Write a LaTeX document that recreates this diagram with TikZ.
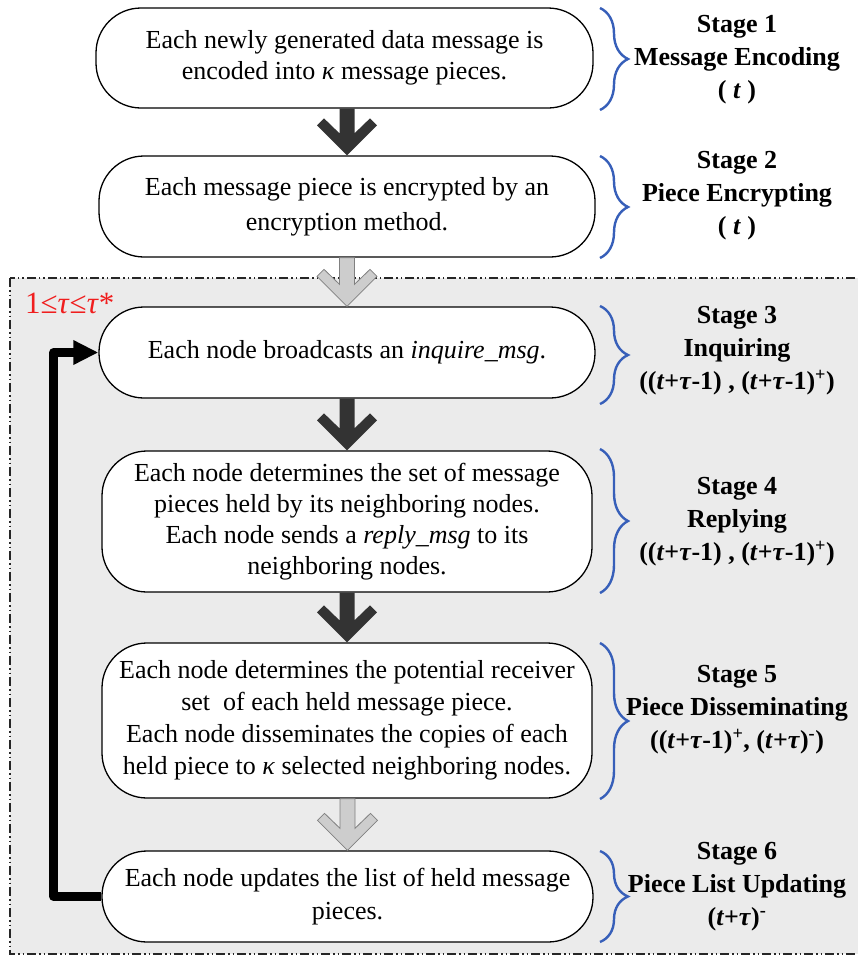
\documentclass[tikz,border=0pt]{standalone}
\usepackage{fontspec}
\setmainfont{Liberation Serif}
\usetikzlibrary{arrows.meta,decorations.pathreplacing,calc}
\definecolor{bracecol}{RGB}{55,95,185}
\definecolor{regionfill}{RGB}{235,235,235}
\definecolor{darkarr}{RGB}{51,51,51}
\definecolor{lightarr}{RGB}{205,205,205}
\definecolor{redlabel}{RGB}{240,30,30}
\newcommand\blockarrow[3]{%
  \path[#1] ([xshift=-7.5pt]#2) -- ([xshift=-7.5pt,yshift=22pt]#3.north) -- ([xshift=-23pt,yshift=37pt]#3.north) -- ([xshift=-30pt,yshift=30pt]#3.north) -- (#3.north) -- ([xshift=30pt,yshift=30pt]#3.north) -- ([xshift=23pt,yshift=37pt]#3.north) -- ([xshift=7.5pt,yshift=22pt]#3.north) -- ([xshift=7.5pt]#2) -- cycle;}
\tikzset{
  box/.style={draw, line width=1.3pt, fill=white, rounded corners=45pt, align=center, inner sep=0pt, font=\fontsize{26}{31}\selectfont},
  darkblock/.style={fill=darkarr},
  lightblock/.style={fill=lightarr, draw=gray, line width=0.8pt},
  stagelbl/.style={font=\fontsize{26}{33}\selectfont\bfseries, align=center, inner sep=0pt},
  brc/.style={draw=bracecol, line width=2.4pt, decorate, decoration={brace, amplitude=28pt}},
  region/.style={fill=regionfill, draw=black!85, line width=1.4pt, dash pattern=on 9pt off 3pt on 1.5pt off 3pt on 1.5pt off 3pt},
  fb/.style={line width=8.5pt, line join=round, -{Triangle[length=25pt,width=23pt]}},
  redlbl/.style={text=redlabel, font=\fontsize{31}{31}\selectfont, inner sep=0pt, anchor=base west}
}
\begin{document}
\begin{tikzpicture}[x=1pt,y=-1pt]
\clip (0,0) rectangle (858,956);
\fill[white] (0,0) rectangle (858,956);
\draw[region] (10,278) rectangle (880,954);
% boxes
\node[box, minimum width=497pt, minimum height=100pt] (b1) at (344.5,58)
  {Each newly generated data message is\\encoded into \textit{κ} message pieces.};
\node[box, minimum width=496pt, minimum height=101pt, font=\fontsize{26}{35}\selectfont] (b2) at (347,206.5)
  {Each message piece is encrypted by an\\encryption method.};
\node[box, minimum width=496pt, minimum height=91pt] (b3) at (347,352.5)
  {Each node broadcasts an \textit{inquire\_msg}.};
\node[box, minimum width=490pt, minimum height=141pt] (b4) at (347,521.5)
  {Each node determines the set of message\\pieces held by its neighboring nodes.\\Each node sends a \textit{reply\_msg} to its\\neighboring nodes.};
\node[box, minimum width=490pt, minimum height=155pt, font=\fontsize{26}{32}\selectfont] (b5) at (347,720.5)
  {Each node determines the potential receiver\\set~ of each held message piece.\\Each node disseminates the copies of each\\held piece to \textit{κ} selected neighboring nodes.};
\node[box, minimum width=491pt, minimum height=91pt, font=\fontsize{26}{33}\selectfont] (b6) at (347.5,896.5)
  {Each node updates the list of held message\\pieces.};
% block arrows
\coordinate (a1) at (b2.north |- b1.south);
\coordinate (a2) at (b3.north |- b2.south);
\coordinate (a3) at (b4.north |- b3.south);
\coordinate (a4) at (b5.north |- b4.south);
\coordinate (a5) at (b6.north |- b5.south);
\blockarrow{darkblock}{a1}{b2}
\blockarrow{lightblock}{a2}{b3}
\blockarrow{darkblock}{a3}{b4}
\blockarrow{darkblock}{a4}{b5}
\blockarrow{lightblock}{a5}{b6}
% feedback loop
\coordinate (lp) at (53.5,352.5);
\draw[fb] (b6.west) -| (lp) -- (b3.west);
\node[redlbl] (rl) at (25,313) {1≤\textit{τ}≤\textit{τ}*};
% braces
\draw[brc] (600,8) -- (600,110);
\draw[brc] (600,156) -- (600,258);
\draw[brc] (600,306) -- (600,404);
\draw[brc] (600,449) -- (600,593);
\draw[brc] (600,643) -- (600,799);
\draw[brc] (600,851) -- (600,942);
% stage labels
\node[stagelbl] (s1) at (737,60) {Stage 1\\Message Encoding\\( \textit{t} )};
\node[stagelbl] (s2) at (737,196) {Stage 2\\Piece Encrypting\\( \textit{t} )};
\node[stagelbl] (s3) at (737,351) {Stage 3\\Inquiring\\((\textit{t}+\textit{τ}-1) , (\textit{t}+\textit{τ}-1)\textsuperscript{+})};
\node[stagelbl] (s4) at (737,522) {Stage 4\\Replying\\((\textit{t}+\textit{τ}-1) , (\textit{t}+\textit{τ}-1)\textsuperscript{+})};
\node[stagelbl] (s5) at (737,710) {Stage 5\\Piece Disseminating\\((\textit{t}+\textit{τ}-1)\textsuperscript{+}, (\textit{t}+\textit{τ})\textsuperscript{-})};
\node[stagelbl] (s6) at (737,887) {Stage 6\\Piece List Updating\\(\textit{t}+\textit{τ})\textsuperscript{-}};
\end{tikzpicture}
\end{document}
